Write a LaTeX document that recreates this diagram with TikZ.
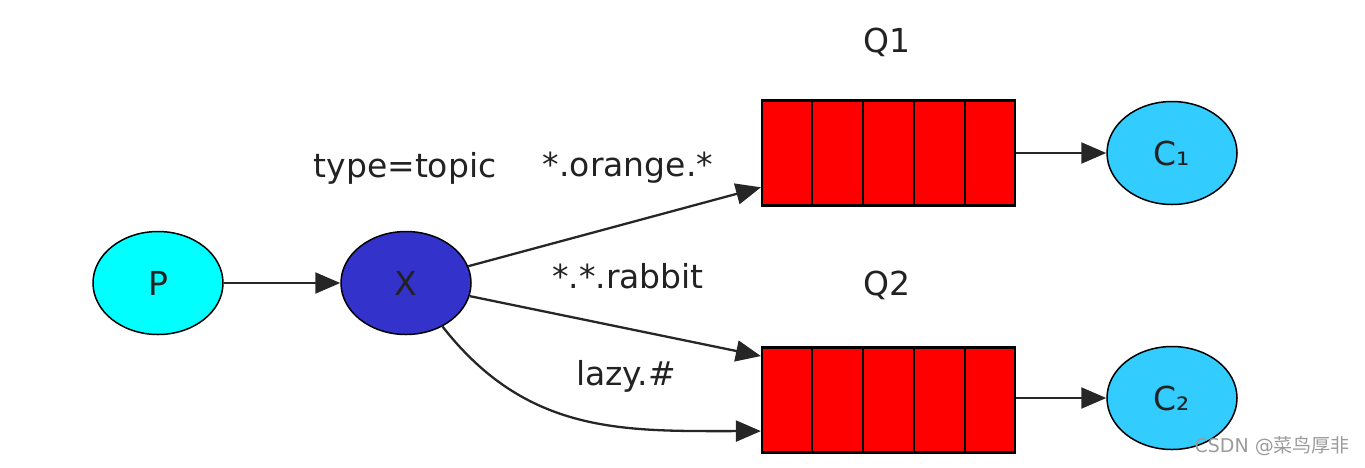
\documentclass[tikz,border=0pt]{standalone}
\usepackage{fontspec}
\setmainfont{DejaVu Sans}
\newfontfamily\cjkfont{Noto Sans CJK SC}
\usetikzlibrary{shapes.geometric,arrows.meta,calc}
\definecolor{pcol}{RGB}{0,255,255}
\definecolor{xcol}{RGB}{51,51,204}
\definecolor{ccol}{RGB}{51,204,255}
\definecolor{qcol}{RGB}{255,0,0}
\definecolor{txtcol}{RGB}{34,34,34}
\definecolor{wmcol}{RGB}{155,155,155}
\tikzset{
  ell/.style={ellipse, draw=black, line width=1.5pt, minimum width=130pt, minimum height=103pt, inner sep=0pt, text=txtcol, font=\fontsize{33}{36}\selectfont},
  queuebox/.style={rectangle, draw=black, line width=2.2pt, fill=qcol, minimum width=253pt, minimum height=105pt, inner sep=0pt},
  lbl/.style={text=txtcol, font=\fontsize{33}{36}\selectfont, inner sep=0pt},
  conn/.style={draw=black!85, line width=2.3pt, -{Triangle[length=25pt,width=21pt]}},
}
\begin{document}
\begin{tikzpicture}[x=1pt,y=-1pt]
\useasboundingbox (0,0) rectangle (1365,467);
% nodes
\node[ell, fill=pcol] (P) at (158,283) {P};
\node[ell, fill=xcol] (X) at (406,283) {X};
\node[queuebox] (Q1) at (888.5,153) {};
\node[queuebox] (Q2) at (888.5,400) {};
\node[ell, fill=ccol] (C1) at (1172,153) {C₁};
\node[ell, fill=ccol] (C2) at (1172,398) {C₂};
% queue cells
\foreach \q in {Q1,Q2}{
  \foreach \i in {1,2,3,4}{
    \draw[black, line width=2.2pt] ($(\q.north west)!\i/5!(\q.north east)$) -- ($(\q.south west)!\i/5!(\q.south east)$);
  }
}
% labels
\node[lbl] (lq1) at (887,42) {Q1};
\node[lbl] (lq2) at (887,285) {Q2};
\node[lbl] (ltype) at (405,168) {type=topic};
\node[lbl] (lorange) at (628,168) {*.orange.*};
\node[lbl] (lrabbit) at (628,276) {*.*.rabbit};
\node[lbl] (llazy) at (626,376) {lazy.\#};
% connectors
\draw[conn] (P) -- (X);
\draw[conn] (X) -- ($(Q1.south west)!0.18!(Q1.north west)$);
\draw[conn] (X) -- ($(Q2.south west)!0.91!(Q2.north west)$);
\draw[conn] (X.-50) to[out=-52,in=180,looseness=1.05] ($(Q2.south west)!0.21!(Q2.north west)$);
\draw[conn] (Q1) -- (C1);
\draw[conn] (Q2.east |- C2) -- (C2);
% watermark
\node[text=wmcol, font=\fontsize{19}{22}\selectfont, anchor=east, inner sep=0pt] (wm) at (1350,446) {CSDN @{\cjkfont 菜鸟厚非}};
\end{tikzpicture}
\end{document}
